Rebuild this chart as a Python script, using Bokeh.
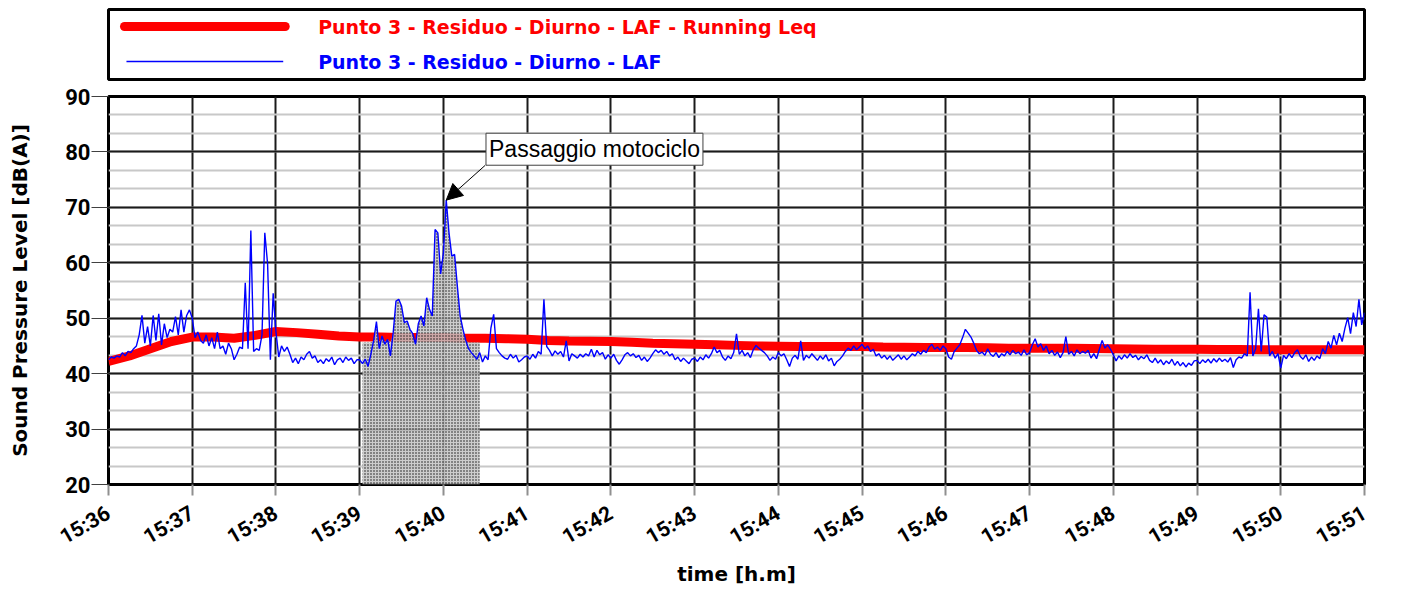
import math
import numpy as np
from bokeh.plotting import figure
from bokeh.models import Range1d, FixedTicker, SingleIntervalTicker, Label, Arrow, NormalHead
from bokeh.layouts import column
from bokeh.embed import file_html
from bokeh.resources import INLINE
from bokeh.core.properties import value

# ---------------- data ----------------
minute_labels = ["15:36", "15:37", "15:38", "15:39", "15:40", "15:41", "15:42", "15:43",
                 "15:44", "15:45", "15:46", "15:47", "15:48", "15:49", "15:50", "15:51"]
series_names = ["Punto 3 - Residuo - Diurno - LAF - Running Leq",
                "Punto 3 - Residuo - Diurno - LAF"]

laf_step_s = 2
laf_1536 = [42.5, 43, 42.8, 43.2, 43, 43.8, 43.2, 44, 43.8, 44.5, 45, 47, 50.5, 45.5, 48.5,
            45, 50.5, 46, 50.8, 45.2, 49, 46.5, 48, 47.5, 50.3, 47, 51.5, 47.5, 50.5, 51.5]
laf_1537 = [50, 46.5, 47.5, 46, 45.5, 47, 45, 46.5, 44.5, 47.5, 44.5, 45, 43.5, 45.5, 44.5,
            42.5, 43.5, 44.8, 44.5, 56.4, 44.5, 65.8, 44, 44.5, 44.2, 47, 65.4, 59.8, 42.5, 54.5]
laf_1538 = [47.5, 43, 45, 44, 44.8, 43.5, 42, 42.8, 41.8, 43, 42.5, 43.5, 44, 42.8, 43.2,
            42, 42.5, 41.8, 42.7, 42.2, 43, 41.6, 42.5, 42.8, 42, 43, 42.4, 42.8, 41.8, 42.5]
laf_1539 = [42.5, 41.8, 42.6, 41.3, 43.5, 46, 49.4, 44.5, 46.8, 45.3, 46.2, 43.2, 47.4, 53.1, 53.4,
            52.2, 49.2, 49.5, 48, 47.2, 45.3, 49, 50.4, 48.6, 53.7, 51.6, 50.4, 66, 65.4, 58]
laf_1540 = [61.8, 71.3, 65.4, 61.2, 61.5, 55.7, 50.4, 48, 46, 44.5, 43.8, 43.2, 42.6, 43.8, 42.1,
            43.2, 42.5, 48.2, 50.7, 44.5, 43.8, 43.2, 42.8, 42.6, 43.5, 42.8, 43.3, 42.1, 42.5, 43]
laf_1541 = [43.2, 42.6, 43.5, 42.8, 44, 43.5, 53.4, 44.9, 44.2, 43.2, 44.1, 43.5, 44, 43, 45.9,
            42.3, 43.6, 43.2, 42.8, 43.5, 43, 43.6, 43.2, 44.4, 43, 44.2, 43.4, 43.8, 42.6, 43.4]
laf_1542 = [42.8, 43.5, 42.4, 41.7, 42.5, 43.4, 43.8, 43.2, 43.6, 42.9, 43.3, 42.4, 43, 42.2, 42.8,
            43.6, 44.3, 43.8, 44.2, 43.5, 44, 43.2, 43.6, 42.5, 43, 42.2, 42.8, 42.3, 41.8, 42.6]
laf_1543 = [42.8, 42.2, 43, 42.5, 43.4, 42.8, 43.6, 44.8, 43.8, 44.2, 43, 42.4, 43.2, 42.7, 43.8,
            47.2, 43.5, 44.2, 43.2, 43.8, 42.9, 44.3, 45.1, 44.6, 44.2, 43.8, 43.2, 42.4, 43, 42.6]
laf_1544 = [43.8, 43.2, 43.6, 42.5, 41.3, 42.8, 43.3, 42.6, 45.9, 42.4, 43.3, 42.8, 43.6, 43, 42.4,
            43.2, 42.6, 43.4, 42.3, 42.8, 41.4, 42.2, 42.6, 43.2, 44, 44.6, 44.2, 45, 44.3, 44.8]
laf_1545 = [45.3, 44.5, 45, 44, 44.4, 43.2, 43.6, 42.8, 43.3, 42.6, 43.2, 42.4, 42.9, 43.4, 42.6,
            43.2, 42.5, 43, 43.6, 43.2, 44, 43.5, 44.2, 43.8, 44.8, 45.3, 44.4, 44.8, 44.2, 45]
laf_1546 = [44.5, 43, 42.6, 44, 44.6, 45.2, 46.5, 48, 47.3, 46.6, 45.5, 44.2, 43.6, 43.9, 43.3,
            44.5, 43.5, 43.1, 43.8, 42.9, 43.6, 43.2, 44, 43.4, 44.2, 43.6, 43.9, 43.3, 44.3, 43.4]
laf_1547 = [43.8, 45.2, 46.3, 44.8, 45.4, 44.2, 45, 43.6, 44.2, 43.3, 43.9, 42.9, 43.8, 46.7, 43.5,
            44, 43.2, 44.3, 43.6, 44, 43.7, 44.2, 42.8, 43.6, 42.7, 44.4, 46, 44.6, 45.2, 44.4]
laf_1548 = [43.4, 42.3, 43.2, 42.6, 43.4, 42.8, 43.6, 42.9, 43.3, 42.5, 43.1, 42.7, 43.4, 42.4, 42,
            42.8, 41.9, 42.5, 41.6, 42.3, 41.8, 42.6, 41.5, 42.2, 41.4, 42, 41.2, 41.9, 41.5, 42.3]
laf_1549 = [42.4, 41.8, 42.5, 42, 42.6, 41.9, 42.7, 42.1, 42.8, 42.2, 42.6, 42.1, 42.9, 41.1, 42.5,
            43, 42.8, 43.6, 43.2, 54.7, 43.2, 44.5, 51.7, 44, 50.6, 50.2, 43.2, 44, 42.8, 43.6]
laf_1550 = [41, 43.3, 42.7, 43.6, 42.9, 43.8, 44.3, 43.1, 42.6, 43.4, 42.2, 43, 42.4, 43.2, 42.7,
            44.5, 43.6, 45.8, 44.6, 46.9, 45.2, 47.3, 45.8, 48.2, 50.1, 47.2, 51, 48.5, 53.4, 48.8]
laf_1551 = [51]

leq_step_s = 15
leq = [42.2, 43.2, 44.5, 45.8, 46.6, 46.6, 46.4, 46.9, 47.6, 47.4, 47.1, 46.8, 46.6, 46.6, 46.5,
       46.5, 46.5, 46.4, 46.4, 46.3, 46.2, 46.0, 45.9, 45.85, 45.8, 45.65, 45.5, 45.4, 45.3, 45.2,
       45.1, 45.0, 44.95, 44.9, 44.9, 44.9, 44.9, 44.8, 44.75, 44.7, 44.7, 44.7, 44.65, 44.6, 44.6,
       44.6, 44.6, 44.55, 44.5, 44.45, 44.4, 44.4, 44.4, 44.35, 44.35, 44.3, 44.3, 44.3, 44.3, 44.3,
       44.3]

shade_start_s = 182     # masked event: 15:39:02
shade_end_s = 266       # 15:40:26
shade_floor_db = 45.6
note_text = "Passaggio motociclo"
note_time_s = 270
note_db = 77.6

laf = np.array(laf_1536 + laf_1537 + laf_1538 + laf_1539 + laf_1540 + laf_1541 + laf_1542 +
               laf_1543 + laf_1544 + laf_1545 + laf_1546 + laf_1547 + laf_1548 + laf_1549 +
               laf_1550 + laf_1551, dtype=float)
t_laf = np.arange(len(laf)) * laf_step_s
leq = np.array(leq, dtype=float)
t_leq = np.arange(len(leq)) * leq_step_s
minute_ticks = [i * 60 for i in range(len(minute_labels))]

BOLD_FONT = "DejaVu Sans"
TICK_FONT = "Roboto"
W = 1394

# ---------------- legend panel ----------------
leg = figure(width=W, height=82, x_range=Range1d(0, 1258), y_range=Range1d(0, 70),
             output_backend="svg", toolbar_location=None, title=None,
             min_border_left=108, min_border_right=28, min_border_top=9, min_border_bottom=3,
             x_axis_location=None, y_axis_location=None)
leg.grid.visible = False
leg.outline_line_color = "black"
leg.outline_line_width = 3
leg.line([16, 177], [53, 53], line_width=9, color="#ff0000", line_cap="round")
leg.line([18, 175], [18, 18], line_width=1.3, color="#0000ff")
leg.text([210], [53], text=[series_names[0]], text_color="#ff0000",
         text_font=value(BOLD_FONT), text_font_style="bold", text_font_size="19px",
         text_baseline="middle")
leg.text([210], [18], text=[series_names[1]], text_color="#0000ff",
         text_font=value(BOLD_FONT), text_font_style="bold", text_font_size="19px",
         text_baseline="middle")

# ---------------- main plot ----------------
p = figure(width=W, height=507, x_range=Range1d(0, 900), y_range=Range1d(20, 90),
           output_backend="svg", toolbar_location=None, title=None,
           min_border_left=108, min_border_right=30, min_border_top=14, min_border_bottom=103)
p.outline_line_color = "black"
p.outline_line_width = 3

p.xaxis.ticker = FixedTicker(ticks=minute_ticks)
p.xaxis.major_label_overrides = {t: lab for t, lab in zip(minute_ticks, minute_labels)}
p.yaxis.ticker = SingleIntervalTicker(interval=10, num_minor_ticks=3)

p.xgrid.grid_line_color = "#1a1a1a"
p.xgrid.grid_line_width = 2
p.ygrid.grid_line_color = "#1a1a1a"
p.ygrid.grid_line_width = 2
p.ygrid.minor_grid_line_color = "#c8c8c8"
p.ygrid.minor_grid_line_width = 2

for ax in (p.xaxis, p.yaxis):
    ax.axis_line_color = None
    ax.minor_tick_out = 0
    ax.minor_tick_in = 0
    ax.major_tick_in = 0
    ax.major_label_text_font = TICK_FONT
    ax.major_label_text_font_style = "bold"
    ax.major_label_text_color = "black"
    ax.axis_label_text_font = BOLD_FONT
    ax.axis_label_text_font_style = "bold"
    ax.axis_label_text_font_size = "20px"
    ax.axis_label_text_color = "black"

p.yaxis.major_tick_out = 17
p.yaxis.major_tick_line_color = "#404040"
p.yaxis.major_label_standoff = 1
p.yaxis.major_label_text_font_size = "22px"
p.yaxis.axis_label = "Sound Pressure Level [dB(A)]"
p.yaxis.axis_label_standoff = 30

p.xaxis.major_tick_out = 11
p.xaxis.major_tick_line_color = "#909090"
p.xaxis.major_tick_line_width = 2
p.xaxis.major_label_orientation = math.radians(30)
p.xaxis.major_label_text_font_size = "21px"
p.xaxis.major_label_standoff = 16
p.xaxis.axis_label = "time [h.m]"
p.xaxis.axis_label_standoff = 0

# running Leq
p.line(t_leq, leq, color="#ff0000", line_width=9)

# masked event area
m = (t_laf >= shade_start_s) & (t_laf <= shade_end_s)
p.varea(x=t_laf[m], y1=p.y_range.start, y2=np.maximum(laf[m], shade_floor_db),
        fill_color="#c4c4c4", fill_alpha=0.85,
        hatch_pattern="dot", hatch_color="black", hatch_scale=3, hatch_weight=1, hatch_alpha=0.9)

# LAF
p.line(t_laf, laf, color="#0000ff", line_width=1.4)

# annotation
ipk = int(np.argmax(laf))
p.add_layout(Arrow(end=NormalHead(size=16, fill_color="black", line_color="black"),
                   x_start=note_time_s, y_start=note_db, x_end=t_laf[ipk], y_end=laf[ipk],
                   line_color="black", line_width=1))
p.add_layout(Label(x=note_time_s + 0.5, y=note_db, text=note_text, text_font="Liberation Sans",
                   text_font_size="23px", text_color="black", text_baseline="bottom",
                   background_fill_color="white", border_line_color="#404040",
                   border_line_width=1, padding=3))

layout = column(leg, p)
open("out.html", "w").write(file_html(layout, INLINE))
